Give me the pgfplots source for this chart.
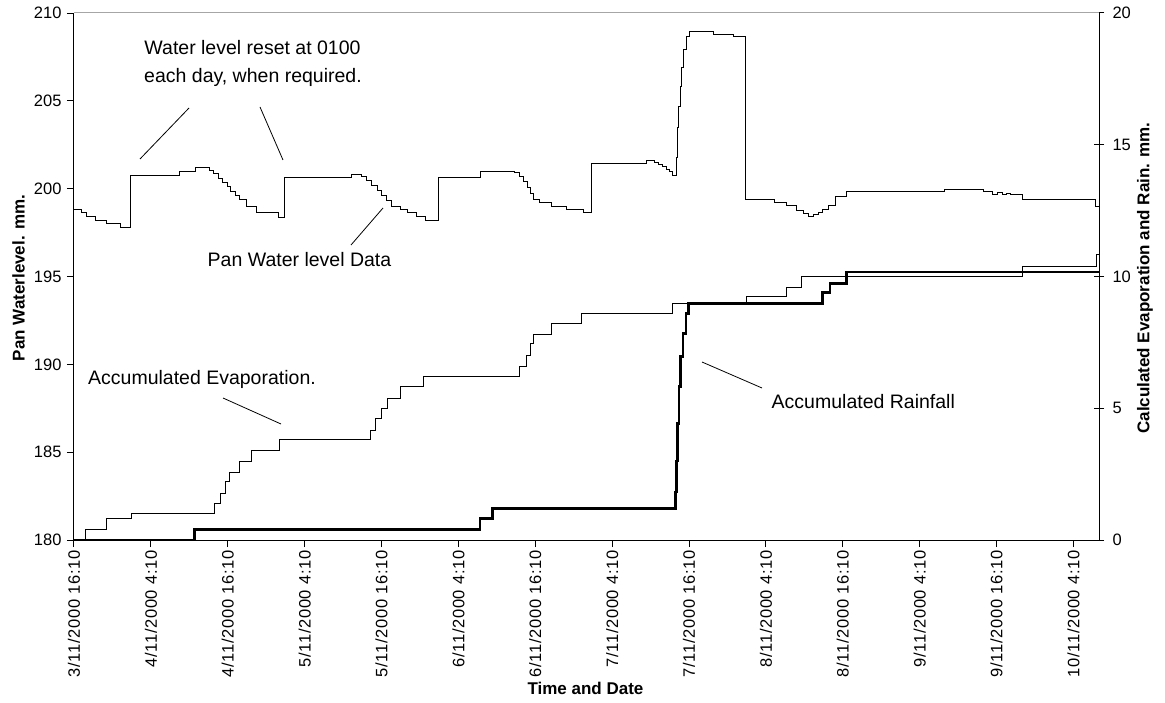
\documentclass[border=0pt]{standalone}
\usepackage{fontspec}
\setmainfont{Liberation Sans}
\newfontfamily\tickfont[LetterSpace=4]{Liberation Sans}
\usepackage{pgfplots}
\pgfplotsset{compat=1.18}
\begin{document}
\begin{tikzpicture}
% left axis: pan water level
\begin{axis}[
  at={(0pt,0pt)}, anchor=south west,
  width=1025pt, height=527pt, scale only axis,
  xmin=0, xmax=160, ymin=180, ymax=210,
  axis x line*=bottom, axis y line*=left,
  axis line style={black, line width=1pt},
  tick align=outside, major tick length=7pt,
  tick style={black, line width=1pt},
  xtick={0,12,...,156},
  xticklabels={3/11/2000 16:10,4/11/2000 4:10,4/11/2000 16:10,5/11/2000 4:10,5/11/2000 16:10,6/11/2000 4:10,6/11/2000 16:10,7/11/2000 4:10,7/11/2000 16:10,8/11/2000 4:10,8/11/2000 16:10,9/11/2000 4:10,9/11/2000 16:10,10/11/2000 4:10},
  xticklabel style={rotate=90, anchor=east, font=\tickfont\fontsize{16.5}{17}\selectfont},
  ytick={180,185,...,210},
  yticklabel style={font=\fontsize{16.5}{17}\selectfont, xshift=-2pt},
  /pgf/number format/assume math mode=true,
]
\addplot[const plot, black, line width=1pt] coordinates {
(0,198.82) (1.2,198.65) (1.9,198.40) (3.3,198.17) (5.0,198.02) (7.2,197.80)
(8.83,200.77) (16.5,200.96) (18.9,201.19) (21.2,201.05) (21.8,200.85) (22.5,200.60)
(23.2,200.35) (23.9,200.10) (24.5,199.85) (25.2,199.60) (25.9,199.40) (26.95,198.97)
(28.5,198.65) (31.9,198.38)
(32.83,200.62) (43.3,200.83) (44.9,200.70) (45.7,200.45) (46.5,200.20) (47.3,199.90)
(48.0,199.63) (48.8,199.30) (49.6,198.97) (51.0,198.80) (52.1,198.65) (53.5,198.40)
(54.8,198.18)
(56.83,200.62) (63.4,200.97) (68.8,200.90) (69.6,200.70) (70.2,200.40) (70.8,200.05)
(71.3,199.70) (71.7,199.37) (72.7,199.20) (74.5,198.97) (76.9,198.82) (79.5,198.65)
(80.83,201.42) (89.4,201.63) (90.6,201.50) (91.2,201.38) (91.9,201.25) (92.5,201.10)
(93.0,200.95) (93.5,200.77) (94.0,201.8) (94.2,203.5) (94.4,204.7) (94.6,205.8)
(94.8,206.9) (95.2,207.9) (95.6,208.65) (96.1,208.97) (99.8,208.80) (102.9,208.65)
(104.83,199.37) (109.4,199.20) (111.2,199.03) (112.8,198.78) (113.8,198.60) (114.7,198.40)
(115.5,198.55) (116.2,198.65) (116.9,198.80) (117.7,199.03) (118.8,199.54) (120.6,199.83)
(135.9,199.97) (141.9,199.83) (143.4,199.67) (144.2,199.80) (145.0,199.67) (145.6,199.75)
(146.2,199.67) (148.1,199.37) (159.5,198.97) (160,198.97)
};
\end{axis}
% right axis: evaporation and rain
\begin{axis}[
  at={(0pt,0pt)}, anchor=south west,
  width=1025pt, height=527pt, scale only axis,
  xmin=0, xmax=160, ymin=0, ymax=20,
  axis x line=none, axis y line*=right,
  axis line style={black, line width=1pt},
  tick align=center, major tick length=10pt,
  tick style={black, line width=1pt},
  ytick={0,5,...,20},
  yticklabel style={font=\fontsize{16.5}{17}\selectfont, xshift=5pt},
  /pgf/number format/assume math mode=true,
]
\addplot[const plot, black, line width=1pt] coordinates {
(0,0) (1.87,0.38) (5.0,0.80) (8.94,1.01) (22.0,1.37) (22.8,1.77) (23.7,2.21) (24.3,2.58)
(25.8,2.97) (27.7,3.39) (32.0,3.80) (46.3,4.17) (47.1,4.62) (48.0,5.0) (49.0,5.38)
(51.0,5.82) (54.5,6.2) (69.5,6.58) (70.6,7.02) (71.3,7.46) (71.7,7.78) (74.5,8.22)
(79.2,8.6) (93.4,8.98) (105.0,9.24) (111.2,9.6) (113.6,10.0) (148.1,10.37)
(159.6,10.82) (160,10.82)
};
\addplot[const plot, black, line width=2.5pt] coordinates {
(0,0) (18.8,0.4) (63.4,0.82) (65.3,1.2) (93.9,1.83) (94.05,3.0) (94.2,4.43) (94.4,5.82)
(94.7,6.96) (95.1,7.84) (95.5,8.6) (95.9,8.98) (116.8,9.39) (118.0,9.74) (120.6,10.18)
(160,10.18)
};
\end{axis}
% plot area top border
\draw[gray!70, line width=1pt] (0pt,527pt) -- (1025pt,527pt);
% annotations
\begin{scope}[font=\fontsize{19.5}{21}\selectfont, line width=0.8pt]
\node[anchor=base] at (178.5pt,485pt) {Water level reset at 0100};
\node[anchor=base] at (179pt,457pt) {each day, when required.};
\draw (115pt,432pt) -- (66pt,381pt);
\draw (186pt,433pt) -- (209pt,380pt);
\node[anchor=base] at (225.5pt,273pt) {Pan Water level Data};
\draw (277pt,295pt) -- (309pt,332pt);
\node[anchor=base] at (128pt,156pt) {Accumulated Evaporation.};
\draw (149pt,142pt) -- (207pt,116pt);
\node[anchor=base west] at (694pt,132pt) {Accumulated Rainfall};
\draw (628pt,178pt) -- (688pt,152pt);
\end{scope}
% axis titles
\begin{scope}[font=\bfseries\fontsize{17}{19}\selectfont]
\node[rotate=90] at (-55.5pt,262pt) {Pan Waterlevel. mm.};
\node[rotate=90] at (1071pt,262pt) {Calculated Evaporation and Rain. mm.};
\node at (511.5pt,-148pt) {Time and Date};
\end{scope}
\pgfresetboundingbox
\path[use as bounding box] (-74pt,-162pt) rectangle (1091pt,540pt);
\end{tikzpicture}
\end{document}
